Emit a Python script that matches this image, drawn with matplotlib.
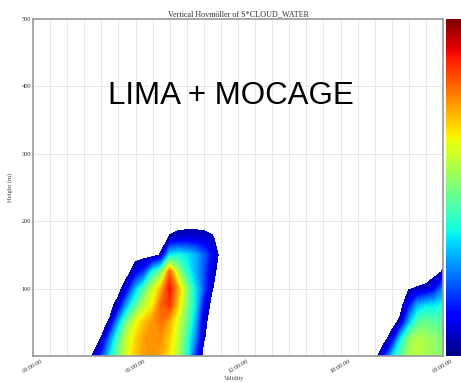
import matplotlib
matplotlib.use("Agg")
import matplotlib.pyplot as plt
import numpy as np
from matplotlib.cm import ScalarMappable
from matplotlib.colors import Normalize


# hoogtes (m) en tijden (uur sinds 00:00)
HEIGHTS = [0, 25, 50, 75, 100, 125, 150, 175, 200]

TIMES_MORNING = [3.0, 3.5, 4.0, 4.5, 5.0, 5.5, 6.0, 6.5, 7.0, 7.5,
                 8.0, 8.5, 9.0, 9.5, 10.0, 10.5, 11.0]
CLOUD_MORNING = [
    [0, .045, .17, .35, .50, .62, .70, .74, .75, .73, .66, .55, .40, .17, 0, 0, 0],
    [0, 0, .047, .25, .45, .60, .68, .74, .76, .75, .68, .58, .42, .25, .045, 0, 0],
    [0, 0, 0, .057, .30, .50, .63, .70, .75, .79, .72, .60, .47, .30, .06, 0, 0],
    [0, 0, 0, 0, .09, .30, .45, .58, .66, .81, .85, .68, .50, .35, .12, 0, 0],
    [0, 0, 0, 0, 0, .11, .30, .45, .60, .72, .89, .72, .52, .35, .20, .042, 0],
    [0, 0, 0, 0, 0, 0, .10, .18, .38, .50, .80, .55, .40, .30, .20, .065, 0],
    [0, 0, 0, 0, 0, 0, 0, 0, 0, .05, .35, .38, .35, .30, .22, .12, 0],
    [0, 0, 0, 0, 0, 0, 0, 0, 0, 0, .05, .07, .08, .08, .07, .05, 0],
    [0, 0, 0, 0, 0, 0, 0, 0, 0, 0, 0, 0, 0, 0, 0, 0, 0],
]

TIMES_EVENING = [20.0, 20.5, 21.0, 21.5, 22.0, 22.5, 23.0, 23.5, 24.0]
CLOUD_EVENING = [
    [0, .12, .32, .45, .55, .57, .55, .53, .50],
    [0, 0, .09, .35, .52, .57, .55, .52, .50],
    [0, 0, 0, .067, .30, .45, .48, .46, .45],
    [0, 0, 0, 0, .14, .30, .35, .35, .38],
    [0, 0, 0, 0, .035, .045, .056, .125, .25],
    [0, 0, 0, 0, 0, 0, 0, 0, .05],
    [0, 0, 0, 0, 0, 0, 0, 0, 0],
    [0, 0, 0, 0, 0, 0, 0, 0, 0],
    [0, 0, 0, 0, 0, 0, 0, 0, 0],
]

TICK_HOURS = [0, 6, 12, 18, 24]
TICK_LABELS = ["00:00:00", "06:00:00", "12:00:00", "18:00:00", "00:00:00"]
HEIGHT_TICKS = [100, 200, 300, 400, 500]

SEUIL = 0.04  # onder deze waarde geen wolk getekend
SERIF = "Liberation Serif"


def main():
    fig = plt.figure(figsize=(4.61, 3.83), dpi=100)
    ax = fig.add_axes([33 / 461, 27 / 383, 410 / 461, 337 / 383])

    norm = Normalize(vmin=0, vmax=1)
    levels = np.linspace(SEUIL, 1.0, 61)
    for tijden, wolk in ((TIMES_MORNING, CLOUD_MORNING),
                         (TIMES_EVENING, CLOUD_EVENING)):
        ax.contourf(tijden, HEIGHTS, wolk, levels=levels, cmap="jet", norm=norm)

    ax.set_xlim(0, 24)
    ax.set_ylim(0, 500)
    ax.set_xticks(TICK_HOURS)
    ax.set_xticklabels(TICK_LABELS, rotation=30, ha="center",
                       family=SERIF, fontsize=4.6, color="#333333")
    ax.set_xticks(range(25), minor=True)
    ax.set_yticks(HEIGHT_TICKS)
    ax.set_yticklabels([str(h) for h in HEIGHT_TICKS], family=SERIF,
                       fontsize=4.6, color="#333333")
    ax.tick_params(which="both", length=0, pad=1.5)

    ax.set_axisbelow(True)
    ax.grid(True, which="both", color="#e4e4e4", linewidth=0.6)
    for spine in ax.spines.values():
        spine.set_color("#9a9a9a")
        spine.set_linewidth(1.2)

    ax.set_title("Vertical Hovmöller of S*CLOUD_WATER", family=SERIF,
                 fontsize=5.9, pad=2, color="#333333")
    ax.set_ylabel("Height (m)", family=SERIF, fontsize=4.8, color="#444444")
    ax.yaxis.set_label_coords(-0.049, 0.5)
    ax.set_xlabel("Validity", family=SERIF, fontsize=4.6, color="#444444")
    ax.xaxis.set_label_coords(0.49, -0.058)

    fig.text(108 / 461, 1 - 104 / 383, "LIMA + MOCAGE", family="Liberation Sans",
             fontsize=22.5, va="baseline", ha="left")

    # kleurenbalk loopt rechts buiten de figuur door
    cax = fig.add_axes([446 / 461, 27 / 383, 25 / 461, 337 / 383])
    cb = fig.colorbar(ScalarMappable(norm=norm, cmap="jet"), cax=cax)
    cb.outline.set_visible(False)
    cb.set_ticks([])

    fig.savefig("out.png", dpi=100)


if __name__ == "__main__":
    main()
